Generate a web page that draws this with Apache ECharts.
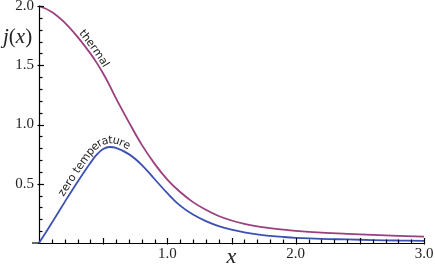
<!DOCTYPE html>
<html>
<head>
<meta charset="utf-8">
<script src="https://cdn.jsdelivr.net/npm/echarts@6/dist/echarts.min.js"></script>
<style>
html,body{margin:0;padding:0;background:#fff;}
#c{width:435px;height:267px;}
</style>
</head>
<body>
<div id="c"></div>
<script>
// ---- data ----
const xs      = [0, 0.1, 0.2, 0.3, 0.4, 0.45, 0.5, 0.55, 0.6, 0.7, 0.8, 0.9, 1.0, 1.1, 1.2, 1.3, 1.4, 1.5, 1.6, 1.7, 1.8, 1.9, 2.0, 2.2, 2.4, 2.6, 2.8, 3.0];
const thermal = [2.00, 1.95, 1.86, 1.74, 1.60, 1.52, 1.43, 1.33, 1.22, 1.02, 0.83, 0.67, 0.535, 0.43, 0.345, 0.28, 0.228, 0.19, 0.161, 0.14, 0.125, 0.113, 0.103, 0.088, 0.077, 0.068, 0.060, 0.053];
const zeroT   = [0.00, 0.17, 0.345, 0.515, 0.675, 0.745, 0.793, 0.81, 0.803, 0.75, 0.66, 0.54, 0.42, 0.315, 0.24, 0.185, 0.143, 0.112, 0.089, 0.072, 0.06, 0.051, 0.044, 0.035, 0.030, 0.025, 0.021, 0.018];
const xTickLabels = ['1.0', '2.0', '3.0'];
const yTickLabels = ['0.5', '1.0', '1.5', '2.0'];
const seriesNames = ['thermal', 'zero temperature'];
const xRange = [0, 3], yRange = [0, 2];
const majorStep = 0.5, minorStep = 0.1;

const serif = '"Liberation Serif", "DejaVu Serif", serif';
const sans = '"DejaVu Sans", sans-serif';
const labelFont = 11;

// tick positions (axis 0 = x, 1 = y; major flag)
const tickData = [];
for (let k = 1; k <= Math.round((xRange[1] - xRange[0]) / minorStep); k++) {
  const v = +(xRange[0] + k * minorStep).toFixed(6);
  tickData.push([v, 0, Math.abs(v / majorStep - Math.round(v / majorStep)) < 1e-6 ? 1 : 0, 0]);
}
for (let k = 1; k <= Math.round((yRange[1] - yRange[0]) / minorStep); k++) {
  const v = +(yRange[0] + k * minorStep).toFixed(6);
  tickData.push([0, 1, Math.abs(v / majorStep - Math.round(v / majorStep)) < 1e-6 ? 1 : 0, v]);
}

const chart = echarts.init(document.getElementById('c'), null, {renderer: 'canvas'});
const option = {
  animation: false,
  backgroundColor: '#fff',
  grid: {left: 39, right: 11, top: 6, bottom: 24, containLabel: false, outerBoundsMode: 'none'},
  xAxis: {
    type: 'value', min: xRange[0], max: xRange[1], interval: majorStep,
    axisLine: {show: true, lineStyle: {color: '#000', width: 1.2}},
    axisTick: {show: false}, minorTick: {show: false},
    splitLine: {show: false}, minorSplitLine: {show: false},
    axisLabel: {
      margin: 4, fontFamily: serif, fontSize: 15, color: '#222',
      formatter: v => xTickLabels.includes(v.toFixed(1)) ? v.toFixed(1) : ''
    },
    name: 'x', nameLocation: 'middle', nameGap: 3, nameMoveOverlap: false,
    nameTextStyle: {fontFamily: serif, fontStyle: 'italic', fontSize: 22, color: '#222'}
  },
  yAxis: {
    type: 'value', min: yRange[0], max: yRange[1], interval: majorStep,
    axisLine: {show: true, lineStyle: {color: '#000', width: 1.2}},
    axisTick: {show: false}, minorTick: {show: false},
    splitLine: {show: false}, minorSplitLine: {show: false},
    axisLabel: {
      margin: 5, fontFamily: serif, fontSize: 15, color: '#222',
      formatter: v => yTickLabels.includes(v.toFixed(1)) ? v.toFixed(1) : ''
    }
  },
  series: [
    {name: seriesNames[0], type: 'line', smooth: 0.4, symbol: 'none',
     lineStyle: {color: '#9a3f7f', width: 1.8},
     data: xs.map((x, i) => [x, thermal[i]])},
    {name: seriesNames[1], type: 'line', smooth: 0.4, symbol: 'none',
     lineStyle: {color: '#3c50b2', width: 1.8},
     data: xs.map((x, i) => [x, zeroT[i]])},
    {name: 'ticks', type: 'custom', silent: true, clip: false, z: 5,
     encode: {x: 0, y: 3},
     data: tickData,
     renderItem: (params, api) => {
       const axis = api.value(1), major = api.value(2);
       let shape;
       if (axis === 0) {
         const p = api.coord([api.value(0), yRange[0]]);
         const x = Math.round(p[0]) + 0.5;
         shape = {x1: x, y1: p[1] + (major ? 1.5 : 0), x2: x, y2: p[1] - (major ? 5 : 3.5)};
       } else {
         const p = api.coord([xRange[0], api.value(3)]);
         const y = Math.round(p[1]) + 0.5;
         shape = {x1: p[0] - (major ? 1.5 : 0), y1: y, x2: p[0] + (major ? 5 : 3.5), y2: y};
       }
       return {type: 'line', shape, style: {stroke: '#000', lineWidth: 1.2}};
     }}
  ]
};
chart.setOption(option);

const toPx = (x, y) => chart.convertToPixel({xAxisIndex: 0, yAxisIndex: 0}, [x, y]);

// ---- text along curves ----
const ctx = document.createElement('canvas').getContext('2d');
ctx.font = labelFont + 'px ' + sans;

function textAlong(vals, text, centerX, offset) {
  const pts = xs.map((x, i) => toPx(x, vals[i]));
  const dense = [];
  for (let i = 0; i < pts.length - 1; i++) {
    const p0 = pts[Math.max(0, i - 1)], p1 = pts[i], p2 = pts[i + 1], p3 = pts[Math.min(pts.length - 1, i + 2)];
    for (let k = 0; k < 20; k++) {
      const t = k / 20, t2 = t * t, t3 = t2 * t;
      const f = (a, b, c, d) => 0.5 * ((2 * b) + (-a + c) * t + (2 * a - 5 * b + 4 * c - d) * t2 + (-a + 3 * b - 3 * c + d) * t3);
      dense.push([f(p0[0], p1[0], p2[0], p3[0]), f(p0[1], p1[1], p2[1], p3[1])]);
    }
  }
  dense.push(pts[pts.length - 1]);
  const off = dense.map((p, i) => {
    const a = dense[Math.max(0, i - 1)], b = dense[Math.min(dense.length - 1, i + 1)];
    const th = Math.atan2(b[1] - a[1], b[0] - a[0]);
    return [p[0] + Math.sin(th) * offset, p[1] - Math.cos(th) * offset, th];
  });
  const cum = [0];
  for (let i = 1; i < off.length; i++) {
    cum.push(cum[i - 1] + Math.hypot(off[i][0] - off[i - 1][0], off[i][1] - off[i - 1][1]));
  }
  function at(s) {
    let i = 1;
    while (i < cum.length - 1 && cum[i] < s) i++;
    const a = off[i - 1], b = off[i];
    const seg = cum[i] - cum[i - 1] || 1;
    const t = (s - cum[i - 1]) / seg;
    return {x: a[0] + (b[0] - a[0]) * t, y: a[1] + (b[1] - a[1]) * t, th: a[2] + (b[2] - a[2]) * t};
  }
  const pxc = toPx(centerX, 0)[0];
  let ic = 0;
  while (ic < dense.length - 1 && dense[ic][0] < pxc) ic++;
  const sc = cum[ic];
  const total = ctx.measureText(text).width;
  let s = sc - total / 2;
  const els = [];
  for (const ch of text) {
    const w = ctx.measureText(ch).width;
    const p = at(s + w / 2);
    els.push({
      type: 'text', x: p.x, y: p.y, rotation: -p.th,
      style: {text: ch, font: labelFont + 'px ' + sans, fill: '#222', align: 'center', verticalAlign: 'middle'},
      silent: true
    });
    s += w;
  }
  return els;
}

const o = toPx(xRange[0], yRange[0]);
const graphics = [].concat(
  textAlong(thermal, seriesNames[0], 0.39, 6),
  textAlong(zeroT, seriesNames[1], 0.42, 6.5),
  [{
    type: 'rect', silent: true, z: 5,
    shape: {x: o[0] - 7, y: o[1] - 0.6, width: 7, height: 1.2},
    style: {fill: '#000'}
  },
  {
    type: 'text', left: 3, top: 27,
    style: {
      text: '{i|j}{u|(}{i|x}{u|)}',
      rich: {
        i: {fontFamily: serif, fontStyle: 'italic', fontSize: 21, fill: '#222'},
        u: {fontFamily: serif, fontSize: 21, fill: '#222'}
      }
    }
  }]
);
chart.setOption({graphic: graphics});
</script>
</body>
</html>
